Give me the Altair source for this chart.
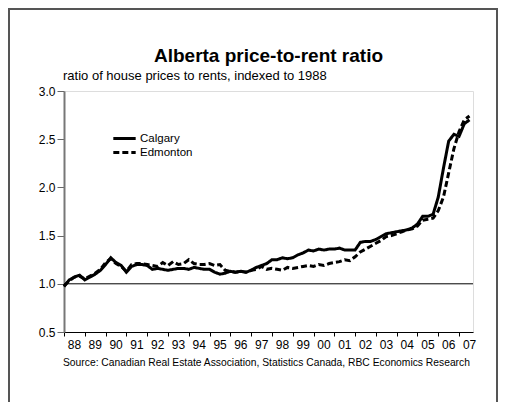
import altair as alt
import pandas as pd

# ---- data (quarterly readings, decimal years) ----
t = [1988 + i * 0.25 for i in range(79)]

calgary = [
    0.97, 1.04, 1.07, 1.09,
    1.04, 1.07, 1.10, 1.14,
    1.20, 1.27, 1.22, 1.19,
    1.12, 1.18, 1.20, 1.20,
    1.19, 1.15, 1.16, 1.15,
    1.14, 1.15, 1.16, 1.16,
    1.15, 1.17, 1.16, 1.15,
    1.15, 1.12, 1.10, 1.11,
    1.13, 1.12, 1.13, 1.12,
    1.14, 1.17, 1.19, 1.21,
    1.25, 1.25, 1.27, 1.26,
    1.27, 1.30, 1.32, 1.35,
    1.34, 1.36, 1.35, 1.36,
    1.36, 1.37, 1.35, 1.35,
    1.35, 1.43, 1.44, 1.44,
    1.46, 1.49, 1.52, 1.53,
    1.54, 1.55, 1.56, 1.58,
    1.62, 1.70, 1.70, 1.72,
    1.90, 2.20, 2.48, 2.55,
    2.53, 2.66, 2.70,
]

edmonton = [
    0.98, 1.03, 1.07, 1.08,
    1.05, 1.08, 1.11, 1.15,
    1.22, 1.26, 1.21, 1.18,
    1.13, 1.20, 1.21, 1.21,
    1.20, 1.19, 1.18, 1.22,
    1.19, 1.23, 1.20, 1.21,
    1.25, 1.21, 1.20, 1.20,
    1.21, 1.19, 1.20, 1.14,
    1.13, 1.12, 1.13, 1.12,
    1.14, 1.15, 1.18, 1.15,
    1.16, 1.15, 1.14, 1.17,
    1.16, 1.17, 1.18, 1.19,
    1.18, 1.20, 1.19, 1.21,
    1.22, 1.23, 1.25, 1.24,
    1.28, 1.33, 1.36, 1.39,
    1.42, 1.45, 1.49, 1.50,
    1.52, 1.54, 1.56, 1.57,
    1.60, 1.66, 1.67, 1.68,
    1.76, 1.90, 2.15, 2.40,
    2.58, 2.70, 2.74,
]

series_names = ["Calgary", "Edmonton"]
year_ticks = list(range(1988, 2008))
y_ticks = [0.5, 1.0, 1.5, 2.0, 2.5, 3.0]
baseline = [1.0]

title_text = "Alberta price-to-rent ratio"
subtitle_text = "ratio of house prices to rents, indexed to 1988"
source_text = "Source: Canadian Real Estate Association, Statistics Canada, RBC Economics Research"

rows = []
for name, vals in zip(series_names, [calgary, edmonton]):
    for tt, v in zip(t, vals):
        rows.append({"t": tt, "value": v, "city": name})
df = pd.DataFrame(rows)

FONT = "Liberation Sans, Arial, sans-serif"
W_PLOT, H_PLOT = 409, 241
PAD = {"left": 56, "top": 83, "right": 25, "bottom": 70}

xscale = alt.Scale(domain=[1988, 2007.67], nice=False, zero=False)
yscale = alt.Scale(domain=[0.5, 3.0], nice=False, zero=False)

lines = alt.Chart(df).mark_line(strokeWidth=3, color="black").encode(
    x=alt.X("t:Q", scale=xscale,
            axis=alt.Axis(values=year_ticks, format="d", labelExpr="slice(datum.label, 2)",
                          labelOffset=10, labelOverlap=False, labelFlush=False,
                          tickSize=4, tickColor="black",
                          domainColor="black", labelColor="black", labelFont=FONT,
                          labelFontSize=12, labelPadding=3, grid=False, title=None)),
    y=alt.Y("value:Q", scale=yscale,
            axis=alt.Axis(values=y_ticks, format=".1f", tickSize=7, tickColor="#666",
                          domainColor="#777", domainWidth=2, labelColor="black",
                          labelFont=FONT, labelFontSize=12, labelPadding=2,
                          grid=False, title=None)),
    strokeDash=alt.StrokeDash("city:N",
        scale=alt.Scale(domain=series_names, range=[[1, 0], [6, 3]]),
        legend=alt.Legend(orient="none", legendX=53, legendY=40, title=None,
                          symbolType="M-2,0H2", symbolStrokeColor="black",
                          symbolFillColor="transparent",
                          symbolStrokeWidth=3, symbolSize=125, labelFont=FONT,
                          labelFontSize=11.5, labelColor="black", rowPadding=0,
                          labelOffset=8)),
)

rule = alt.Chart(pd.DataFrame({"y": baseline})).mark_rule(color="black", strokeWidth=1).encode(
    y=alt.Y("y:Q", scale=yscale)
)

ttl = alt.Chart(pd.DataFrame({"s": [title_text]})).mark_text(
    align="center", baseline="alphabetic", font=FONT, fontSize=19, fontWeight="bold",
    color="black"
).encode(x=alt.value(W_PLOT / 2), y=alt.value(-29), text="s:N")

sub = alt.Chart(pd.DataFrame({"s": [subtitle_text]})).mark_text(
    align="left", baseline="alphabetic", font=FONT, fontSize=13, color="black"
).encode(x=alt.value(-1), y=alt.value(-11), text="s:N")

src = alt.Chart(pd.DataFrame({"s": [source_text]})).mark_text(
    align="left", baseline="alphabetic", font=FONT, fontSize=10.3, color="black"
).encode(x=alt.value(-1), y=alt.value(H_PLOT + 34), text="s:N")

frame = alt.Chart(pd.DataFrame({"s": [0]})).mark_rect(
    filled=False, stroke="#555", strokeWidth=2
).encode(x=alt.value(-55), x2=alt.value(W_PLOT + PAD["right"] - 1),
         y=alt.value(-82), y2=alt.value(H_PLOT + 120))

chart = alt.layer(frame, rule, lines, ttl, sub, src).properties(
    width=W_PLOT, height=H_PLOT,
    autosize=alt.AutoSizeParams(type="none"),
    padding=PAD,
).configure_view(stroke="black", strokeWidth=1.5).configure(background="white")

chart.save("out.html", embed_options={"renderer": "svg", "actions": False})
